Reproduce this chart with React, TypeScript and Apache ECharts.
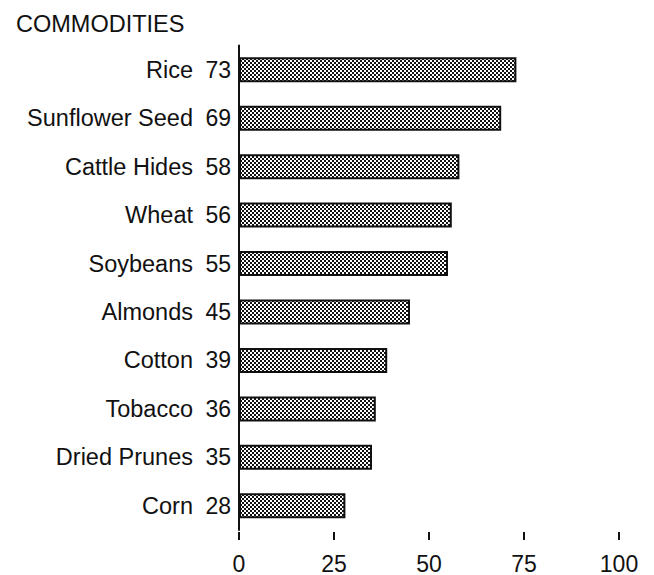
import React, { useEffect, useRef } from "react";
import * as echarts from "echarts";

const categories = ["Rice", "Sunflower Seed", "Cattle Hides", "Wheat", "Soybeans", "Almonds", "Cotton", "Tobacco", "Dried Prunes", "Corn"];
const values = [73, 69, 58, 56, 55, 45, 39, 36, 35, 28];
const xTicks = [0, 25, 50, 75, 100];
const title = "COMMODITIES";

function makePattern(): HTMLCanvasElement {
  const c = document.createElement("canvas");
  c.width = 4;
  c.height = 4;
  const ctx = c.getContext("2d")!;
  ctx.fillStyle = "#ffffff";
  ctx.fillRect(0, 0, 4, 4);
  ctx.fillStyle = "#111111";
  ctx.fillRect(0, 0, 2, 2);
  ctx.fillRect(2, 2, 2, 2);
  return c;
}

export default function App() {
  const ref = useRef<HTMLDivElement>(null);
  useEffect(() => {
    if (!ref.current) return;
    const chart = echarts.init(ref.current, null, { renderer: "svg" });
    const font = "'Liberation Sans', Arial, Helvetica, sans-serif";
    const pattern = { image: makePattern(), repeat: "repeat" };
    chart.setOption({
      animation: false,
      backgroundColor: "#ffffff",
      title: {
        text: title,
        left: 11,
        top: 7,
        textStyle: { fontFamily: font, fontSize: 23.5, fontWeight: "normal", color: "#111" },
      },
      grid: { left: 239, right: 35, top: 45.5, bottom: 40, containLabel: false },
      xAxis: {
        type: "value",
        min: 0,
        max: 100,
        interval: 25,
        offset: 2,
        axisLine: { show: false },
        axisTick: { show: true, length: 8, lineStyle: { color: "#111", width: 2 } },
        splitLine: { show: false },
        axisLabel: {
          margin: 20,
          fontFamily: font,
          fontSize: 23,
          color: "#111",
          customValues: xTicks,
        },
      },
      yAxis: {
        type: "category",
        data: categories,
        inverse: true,
        axisLine: { show: true, lineStyle: { color: "#111", width: 2 } },
        axisTick: { show: false },
        axisLabel: {
          margin: 8,
          formatter: (v: string, i: number) => `{n|${v}}{v|${values[i]}}`,
          rich: {
            n: { fontFamily: font, fontSize: 23.5, color: "#111", padding: [0, 11, 0, 0] },
            v: { fontFamily: font, fontSize: 23, color: "#111", width: 27, align: "right" },
          },
        },
      },
      series: [
        {
          type: "bar",
          data: values,
          barWidth: 25,
          itemStyle: { color: pattern, borderColor: "#111", borderWidth: 2 },
        },
      ],
    });
    return () => chart.dispose();
  }, []);
  return <div ref={ref} style={{ width: 654, height: 575, position: "absolute", left: 0, top: 0 }} />;
}
